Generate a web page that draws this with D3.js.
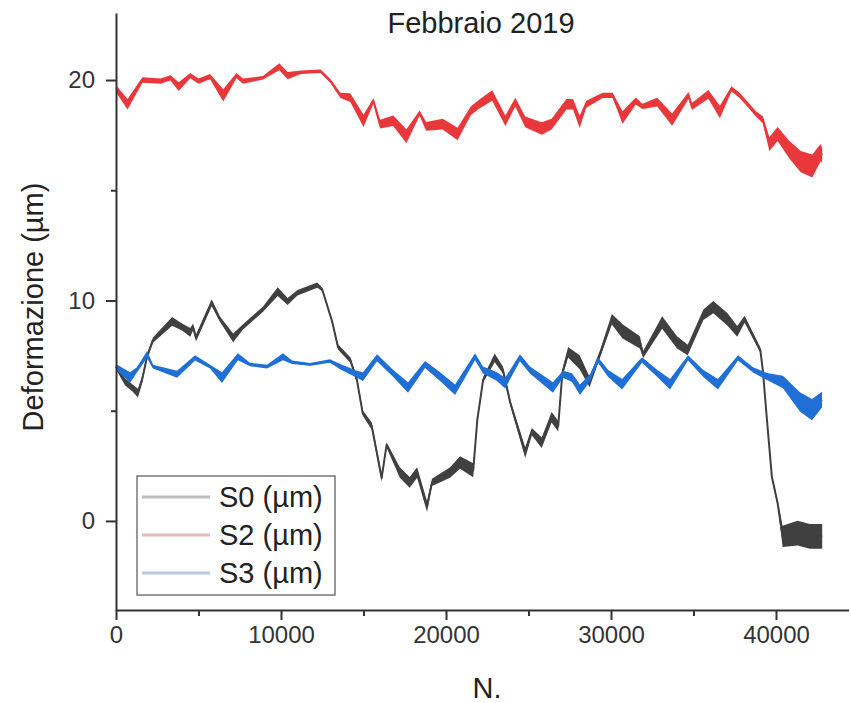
<!DOCTYPE html>
<html>
<head>
<meta charset="utf-8">
<script src="https://cdn.jsdelivr.net/npm/d3@7"></script>
<style>
  body { margin: 0; background: #fff; }
  svg { display: block; font-family: "Liberation Sans", Arial, sans-serif; }
</style>
</head>
<body>
<div class="chart"></div>
<script>
// readings: [N, value, half-width of the noise band]
const s0 = [
  [0, 7.0, .15], [550, 6.3, .2], [970, 6.05, .2], [1330, 5.8, .25], [1580, 6.4, .2], [1880, 7.45, .15],
  [2240, 8.2, .15], [3400, 9.05, .25], [4000, 8.8, .2], [4500, 8.55, .25], [4670, 8.8, .2], [4850, 8.3, .2],
  [5800, 9.9, .2], [6300, 9.15, .15], [7100, 8.3, .25], [7700, 8.8, .15], [8900, 9.6, .15], [9800, 10.4, .25],
  [10400, 9.95, .2], [11000, 10.35, .15], [12200, 10.7, .15], [12500, 10.5, .1], [13100, 9.05, .1], [13450, 7.9, .15],
  [14200, 7.3, .15], [14600, 6.4, .15], [14950, 4.9, .15], [15500, 4.3, .2], [16100, 1.95, .2], [16400, 3.45, .15],
  [17200, 2.2, .3], [17800, 1.75, .3], [18250, 2.2, .3], [18850, 0.65, .3], [19150, 1.75, .2], [20250, 2.2, .3],
  [20850, 2.65, .35], [21650, 2.3, .4], [21900, 4.6, .15], [22250, 6.4, .15], [22950, 7.4, .25], [23450, 6.85, .2],
  [23900, 5.35, .15], [24800, 3.1, .3], [25200, 4.05, .2], [25800, 3.55, .3], [26400, 4.7, .3], [26800, 4.3, .3],
  [27050, 6.7, .2], [27400, 7.65, .3], [28100, 7.2, .4], [28700, 6.3, .3], [29350, 7.6, .2], [30050, 9.15, .3],
  [30700, 8.6, .4], [31750, 8.1, .35], [31950, 7.55, .2], [33100, 9.0, .35], [34000, 8.1, .35], [34650, 7.75, .3],
  [35600, 9.35, .3], [36200, 9.7, .35], [37050, 9.15, .35], [37650, 8.6, .3], [38100, 9.15, .2], [39050, 7.75, .15],
  [39200, 6.85, .1], [39450, 4.6, .1], [39750, 2.0, .15], [40100, 0.8, .15], [40400, -0.7, .6], [41300, -0.55, .7],
  [42050, -0.7, .7], [42800, -0.7, .7]
];

const s2 = [
  [0, 19.6, .2], [700, 18.9, .3], [1600, 20.0, .15], [2700, 19.95, .15], [3300, 20.1, .15], [3800, 19.7, .25],
  [4500, 20.2, .15], [5000, 19.95, .15], [5700, 20.15, .15], [6500, 19.3, .35], [7300, 20.2, .15], [7700, 19.95, .15],
  [8900, 20.1, .1], [9900, 20.6, .2], [10400, 20.2, .2], [11200, 20.35, .1], [12400, 20.4, .1], [13000, 19.95, .1],
  [13600, 19.3, .15], [14200, 19.2, .25], [15000, 18.15, .35], [15600, 19.05, .15], [16000, 18.0, .25], [16800, 18.15, .3],
  [17600, 17.45, .4], [18400, 18.5, .15], [18800, 17.9, .25], [19800, 18.0, .3], [20700, 17.55, .35], [21500, 18.6, .25],
  [22000, 18.9, .25], [22800, 19.3, .3], [23600, 18.15, .3], [24200, 19.0, .25], [24800, 18.1, .3], [25800, 17.8, .35],
  [26400, 18.0, .3], [27300, 18.9, .3], [27700, 18.9, .3], [28100, 18.1, .35], [28500, 18.9, .2], [29500, 19.3, .15],
  [30100, 19.3, .15], [30700, 18.3, .35], [31500, 19.05, .2], [31900, 18.8, .15], [32800, 19.0, .25], [33700, 18.2, .35],
  [34700, 19.3, .2], [34900, 18.8, .2], [35900, 19.35, .25], [36600, 18.55, .35], [37300, 19.6, .15], [37800, 19.3, .15],
  [38800, 18.45, .15], [39200, 18.2, .2], [39600, 17.1, .4], [40100, 17.55, .4], [40800, 16.85, .5], [41500, 16.3, .6],
  [42200, 16.1, .65], [42700, 16.7, .5], [42800, 16.6, .4]
];

const s3 = [
  [0, 7.0, .15], [850, 6.5, .3], [1270, 6.85, .15], [1880, 7.55, .2], [2240, 7.0, .1], [3700, 6.65, .2],
  [4790, 7.4, .15], [5700, 7.0, .1], [6420, 6.5, .3], [7390, 7.45, .2], [8120, 7.1, .1], [9150, 7.0, .1],
  [10120, 7.45, .2], [10670, 7.2, .1], [11760, 7.1, .08], [12970, 7.25, .1], [13580, 7.0, .15], [14600, 6.65, .2],
  [14970, 6.55, .25], [15820, 7.4, .2], [16790, 6.7, .2], [17700, 6.05, .3], [18730, 7.1, .2], [19640, 6.55, .25],
  [20550, 5.95, .3], [21760, 7.45, .2], [22240, 6.85, .2], [23090, 6.55, .25], [23580, 6.25, .3], [24480, 7.4, .2],
  [25090, 6.85, .2], [26480, 6.05, .3], [27090, 6.65, .2], [27640, 6.5, .25], [28120, 5.95, .3], [28730, 6.5, .2],
  [29210, 7.3, .15], [29820, 6.7, .2], [30670, 6.2, .3], [31880, 7.3, .15], [32790, 6.7, .2], [33580, 6.2, .3],
  [34670, 7.4, .15], [35580, 6.7, .2], [36480, 6.2, .3], [37700, 7.4, .15], [38610, 6.85, .15], [39450, 6.55, .2],
  [40420, 6.3, .35], [41450, 5.4, .55], [42180, 5.05, .6], [42790, 5.5, .45]
];

const seriesNames = ["S0 (µm)", "S2 (µm)", "S3 (µm)"];
const seriesColors = ["#404040", "#e8383b", "#1f6fd6"];
const legendColors = ["#bdbdbd", "#ecb6b6", "#b7cbe3"];
const xTicks = [0, 10000, 20000, 30000, 40000];
const xMinorTicks = [5000, 15000, 25000, 35000];
const yTicks = [0, 10, 20];
const yMinorTicks = [5, 15];

const width = 851;
const height = 703;

const svg = d3.select(".chart")
  .append("svg")
  .attr("width", width)
  .attr("height", height);

// scales
const x = d3.scaleLinear()
  .domain([0, 44400])
  .range([116, 848.6]);

const y = d3.scaleLinear()
  .domain([-4.04, 23.04])
  .range([610, 13]);

// data: noise band + centre line for each series
const all = [s0, s2, s3];
const area = d3.area()
  .x(d => x(d[0]))
  .y0(d => y(d[1] - d[2] * 0.8))
  .y1(d => y(d[1] + d[2] * 0.8));
const line = d3.line()
  .x(d => x(d[0]))
  .y(d => y(d[1]));

const plot = svg.append("g");
all.forEach((s, i) => {
  plot.append("path")
    .attr("d", area(s))
    .attr("fill", seriesColors[i]);
  plot.append("path")
    .attr("d", line(s))
    .attr("fill", "none")
    .attr("stroke", seriesColors[i])
    .attr("stroke-width", 2)
    .attr("stroke-linejoin", "round");
});

// X axis
svg.append("g")
  .attr("transform", `translate(0, 610)`)
  .call(d3.axisBottom(x).tickValues(xTicks).tickFormat(d3.format("d")).tickSize(10).tickSizeOuter(0).tickPadding(6));
svg.append("g")
  .attr("transform", `translate(0, 610)`)
  .call(d3.axisBottom(x).tickValues(xMinorTicks).tickFormat("").tickSize(6).tickSizeOuter(0))
  .select(".domain").remove();

// Y axis
svg.append("g")
  .attr("transform", `translate(116, 0)`)
  .call(d3.axisLeft(y).tickValues(yTicks).tickSize(10).tickSizeOuter(0).tickPadding(11));
svg.append("g")
  .attr("transform", `translate(116, 0)`)
  .call(d3.axisLeft(y).tickValues(yMinorTicks).tickFormat("").tickSize(5).tickSizeOuter(0))
  .select(".domain").remove();

svg.selectAll(".domain").attr("stroke", "#333").attr("stroke-width", 2);
svg.selectAll(".tick line").attr("stroke", "#333").attr("stroke-width", 2);
svg.selectAll(".tick text")
  .attr("fill", "#333")
  .style("font-size", "24px")
  .style("font-family", "'Liberation Sans', Arial, sans-serif");

// titles
svg.append("text")
  .attr("x", 481).attr("y", 33)
  .attr("text-anchor", "middle")
  .attr("fill", "#222")
  .style("font-size", "29px")
  .text("Febbraio 2019");

svg.append("text")
  .attr("x", 487).attr("y", 698)
  .attr("text-anchor", "middle")
  .attr("fill", "#222")
  .style("font-size", "29px")
  .text("N.");

svg.append("text")
  .attr("transform", "translate(43, 307) rotate(-90)")
  .attr("text-anchor", "middle")
  .attr("fill", "#222")
  .style("font-size", "29px")
  .text("Deformazione (µm)");

// legend
const legend = svg.append("g");
legend.append("rect")
  .attr("x", 137).attr("y", 476)
  .attr("width", 198).attr("height", 119)
  .attr("fill", "#fff")
  .attr("stroke", "#777")
  .attr("stroke-width", 1.5);

seriesNames.forEach((name, i) => {
  const cy = 497 + i * 38;
  legend.append("line")
    .attr("x1", 142).attr("x2", 210)
    .attr("y1", cy).attr("y2", cy)
    .attr("stroke", legendColors[i])
    .attr("stroke-width", 3);
  legend.append("text")
    .attr("x", 219).attr("y", cy + 10)
    .attr("fill", "#222")
    .style("font-size", "29px")
    .text(name);
});
</script>
</body>
</html>
